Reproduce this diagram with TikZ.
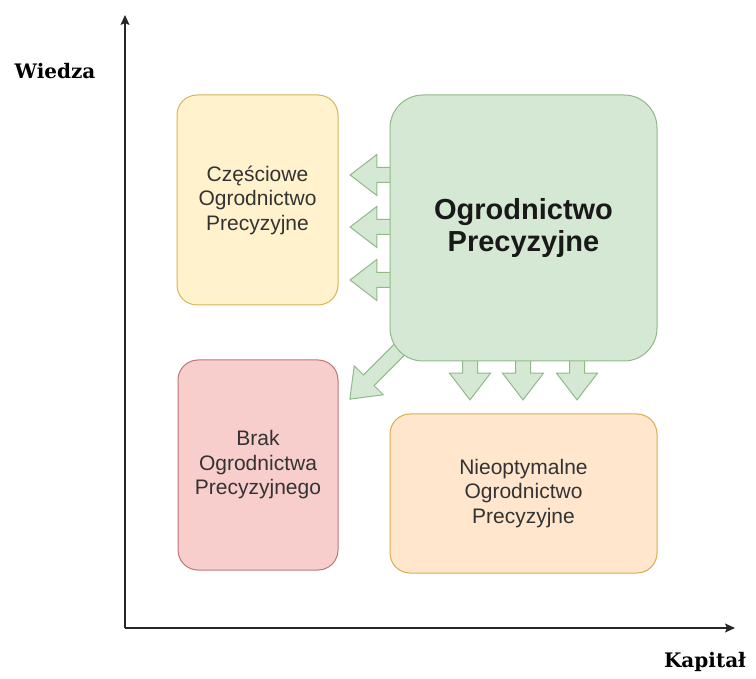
\documentclass[tikz,border=0pt]{standalone}
\usepackage{fontspec}
\setmainfont{Liberation Sans}
\newfontfamily\axisfont{DejaVu Serif}
\usepackage{tikz}
\usetikzlibrary{arrows.meta,shapes.arrows}
\usepackage{xcolor}

\definecolor{zolty}{HTML}{FFF2CC}
\definecolor{zoltyram}{HTML}{D6B656}
\definecolor{zielony}{HTML}{D5E8D4}
\definecolor{zielonyram}{HTML}{8FBA87}
\definecolor{czerwony}{HTML}{F8CECC}
\definecolor{czerwonyram}{HTML}{C07572}
\definecolor{pomarancz}{HTML}{FFE6CC}
\definecolor{pomaranczram}{HTML}{DDAA4E}
\definecolor{tekst}{HTML}{333333}

\begin{document}
\begin{tikzpicture}[x=1pt,y=-1pt,
    pole/.style={draw,line width=1pt,rounded corners=20pt,align=center,
      text=tekst,font=\fontsize{21}{24.5}\selectfont},
    strzalka/.style={single arrow,draw=zielonyram,fill=zielony,line width=1pt,
      minimum width=40pt,inner sep=7pt,
      single arrow head extend=13pt,single arrow tip angle=75},
    os/.style={line width=1.3pt,draw=black!85,-{Stealth[length=10pt,width=9pt,inset=2pt]}},
    opisosi/.style={font=\axisfont\bfseries\fontsize{20}{24}\selectfont}]

    \useasboundingbox (0,0) rectangle (756,679);

    % Osie wykresu
    \coordinate (poczatek) at (125,628);
    \coordinate (gora) at (125,15);
    \coordinate (prawo) at (735,628);
    \draw[os] (poczatek) -- (gora);
    \draw[os] (poczatek) -- (prawo);
    \node[opisosi] (wiedza) at (55,71) {Wiedza};
    \node[opisosi] (kapital) at (705,662) {Kapitał};

    % Strzalki blokowe (pod polami)
    \node[strzalka,minimum height=46pt,shape border rotate=180] (lewo1) at (378,175) {};
    \node[strzalka,minimum height=46pt,shape border rotate=180] (lewo2) at (378,227) {};
    \node[strzalka,minimum height=46pt,shape border rotate=180] (lewo3) at (378,280) {};
    \node[strzalka,minimum height=46pt,shape border rotate=270] (dol1) at (470,372) {};
    \node[strzalka,minimum height=46pt,shape border rotate=270] (dol2) at (523,372) {};
    \node[strzalka,minimum height=46pt,shape border rotate=270] (dol3) at (577,372) {};
    \node[strzalka,minimum height=84pt,shape border rotate=180,rotate=45] (skos) at (383,366) {};

    % Pola
    \node[pole,draw=zoltyram,fill=zolty,minimum width=161pt,minimum height=210pt]
      (czesciowe) at (257.5,200) {Częściowe\\Ogrodnictwo\\Precyzyjne};
    \node[pole,draw=zielonyram,fill=zielony,rounded corners=33pt,
      minimum width=267pt,minimum height=266pt,text=black!90,
      font=\bfseries\fontsize{29}{32}\selectfont]
      (pelne) at (523.5,228) {Ogrodnictwo\\Precyzyjne};
    \node[pole,draw=czerwonyram,fill=czerwony,minimum width=160pt,minimum height=210pt]
      (brak) at (258,465) {Brak\\Ogrodnictwa\\Precyzyjnego};
    \node[pole,draw=pomaranczram,fill=pomarancz,minimum width=267pt,minimum height=159pt]
      (nieoptymalne) at (523.5,493.5) {Nieoptymalne\\Ogrodnictwo\\Precyzyjne};

\end{tikzpicture}
\end{document}
